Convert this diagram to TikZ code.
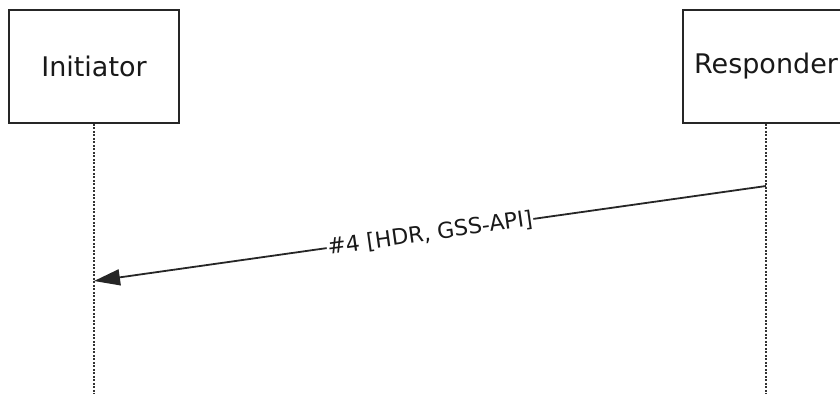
\documentclass[tikz,border=0pt]{standalone}
\usepackage{fontspec}
\setmainfont{DejaVu Sans}
\usetikzlibrary{arrows.meta}
\begin{document}
\begin{tikzpicture}[x=1pt,y=-1pt,
  actor/.style={draw=black!85,line width=1.6pt,fill=white,minimum height=113pt,inner sep=0pt,font=\fontsize{27}{32}\selectfont,text=black!90},
  lifeline/.style={draw=black!80,line width=1.3pt,dash pattern=on 2pt off 1.5pt},
  msg/.style={draw=black!85,line width=1.8pt,-{Triangle[length=26pt,width=16pt]}},
  lbl/.style={fill=white,inner sep=1pt,font=\fontsize{22}{26}\selectfont,text=black!90,sloped}]
\useasboundingbox (0,0) rectangle (840,394);
\node[actor,minimum width=170pt] (ini) at (94,66.5) {Initiator};
\node[actor,minimum width=166pt] (res) at (766,66.5) {Responder};
\coordinate (iniend) at (94,394);
\coordinate (resend) at (766,394);
\coordinate (ms) at (766,186);
\coordinate (me) at (94,281);
\draw[lifeline] (ini.south) -- (iniend);
\draw[lifeline] (res.south) -- (resend);
\draw[msg] (ms) -- node[lbl] {\#4 [HDR, GSS-API]} (me);
\end{tikzpicture}
\end{document}
